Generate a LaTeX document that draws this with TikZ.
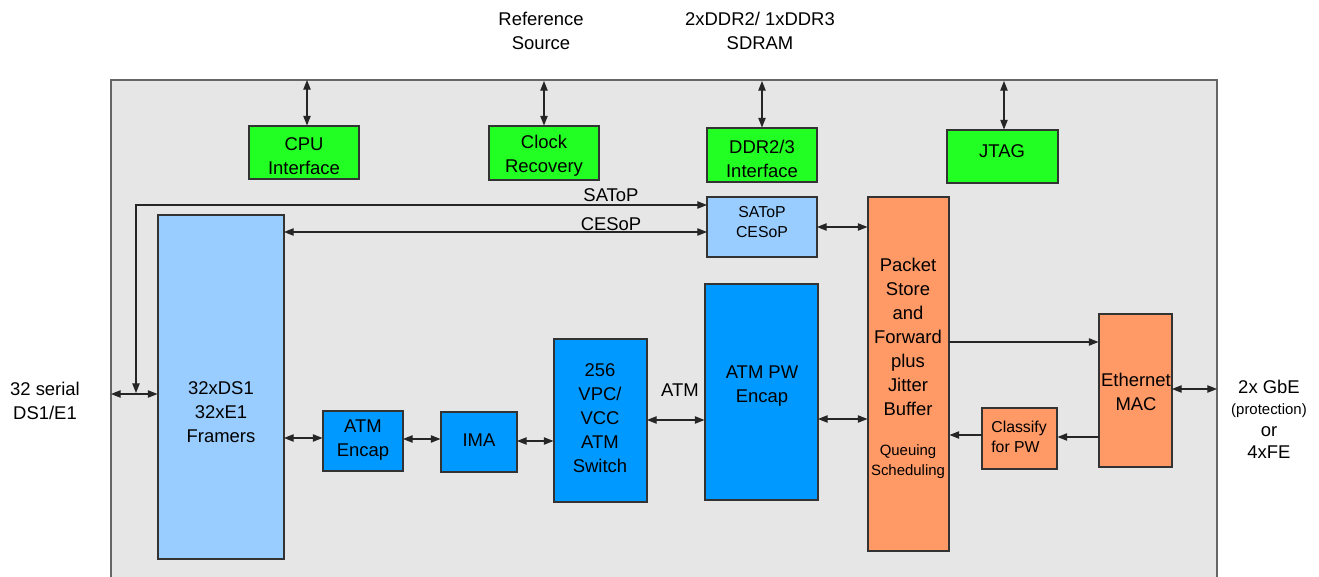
\documentclass[tikz,border=0pt]{standalone}
\usepackage{fontspec}
\setmainfont{Liberation Sans}
\usetikzlibrary{arrows.meta,fit}
\definecolor{cgreen}{HTML}{22FF22}
\definecolor{clblue}{HTML}{99CCFF}
\definecolor{cblue}{HTML}{0099FF}
\definecolor{corange}{HTML}{FF9966}
\definecolor{cbg}{HTML}{E6E6E6}
\definecolor{cframe}{HTML}{666666}
\definecolor{cedge}{HTML}{333333}
\tikzset{
  mainfont/.style={font=\fontsize{10.5}{13.6}\selectfont},
  smallfont/.style={font=\fontsize{8.5}{11.3}\selectfont},
  blockbox/.style={draw=cedge, line width=0.6pt, inner sep=0pt},
  greenbox/.style={blockbox, fill=cgreen},
  lbluebox/.style={blockbox, fill=clblue},
  bluebox/.style={blockbox, fill=cblue},
  orangebox/.style={blockbox, fill=corange},
  txt/.style={align=center, inner sep=0pt, mainfont},
  conn/.style={draw=black!85, line width=0.6pt, -{Triangle[length=5.5pt,width=4.2pt]}},
  biconn/.style={draw=black!85, line width=0.6pt, {Triangle[length=5.5pt,width=4.2pt]}-{Triangle[length=5.5pt,width=4.2pt]}},
}
\begin{document}
\begin{tikzpicture}[x=0.02cm,y=-0.02cm]
\useasboundingbox (0,0) rectangle (1319,577);
\clip (0,0) rectangle (1319,577);
% container
\path[fill=cbg, draw=cframe, line width=0.7pt] (111,80) rectangle (1217,620);

% green interface blocks
\node[greenbox, fit={(249,126) (359,179)}] (cpu) {};
\node[txt] (cput) at (304,156) {CPU\\Interface};
\node[greenbox, fit={(489,126) (599,180)}] (clk) {};
\node[txt] (clkt) at (544,156) {Clock\\Recovery};
\node[greenbox, fit={(707,128) (817,182)}] (ddr) {};
\node[txt] (ddrt) at (762,159) {DDR2/3\\Interface};
\node[greenbox, fit={(947,130) (1058,183)}] (jtag) {};
\node[txt] (jtagt) at (1002,151) {JTAG};

% light blue blocks
\node[lbluebox, fit={(158,215) (284,559)}] (fr) {};
\node[txt] (frt) at (221,412) {32xDS1\\32xE1\\Framers};
\node[lbluebox, fit={(707,197) (817,257)}] (sat) {};
\node[txt, font=\fontsize{9}{11.3}\selectfont] (satt) at (762,222) {SAToP\\CESoP};

% blue blocks
\node[bluebox, fit={(323,411) (403,471)}] (enc) {};
\node[txt] (enct) at (363,440) {ATM\\Encap};
\node[bluebox, fit={(441,412) (517,472)}] (ima) {};
\node[txt] (imat) at (479,440) {IMA};
\node[bluebox, fit={(554,339) (647,502)}] (sw) {};
\node[txt] (swt) at (600,418) {256\\VPC/\\VCC\\ATM\\Switch};
\node[bluebox, fit={(705,284) (818,500)}] (pw) {};
\node[txt] (pwt) at (762,386) {ATM PW\\Encap};

% orange blocks
\node[orangebox, fit={(868,197) (949,551)}] (pk) {};
\node[txt] (pkt) at (908,337) {Packet\\Store\\and\\Forward\\plus\\Jitter\\Buffer};
\node[txt, smallfont] (qst) at (908,462) {Queuing\\Scheduling};
\node[orangebox, fit={(982,408) (1057,469)}] (cls) {};
\node[txt, font=\fontsize{9}{11.3}\selectfont, align=left] (clst) at (1019,437) {Classify\\for PW};
\node[orangebox, fit={(1099,314) (1172,467)}] (mac) {};
\node[txt] (mact) at (1136,392) {Ethernet\\MAC};

% outside labels
\node[txt] (refsrc) at (541,31) {Reference\\Source};
\node[txt] (sdram) at (760,31) {2xDDR2/ 1xDDR3\\SDRAM};
\node[txt] (serial) at (45,401) {32 serial\\DS1/E1};
\node[txt, font=\fontsize{10.5}{12.3}\selectfont] (gbe) at (1269,419) {2x GbE\\{\fontsize{8.5}{10}\selectfont (protection)}\\or\\4xFE};

% link labels
\node[txt] (satl) at (611,195) {SAToP};
\node[txt] (cesl) at (611,224) {CESoP};
\node[txt] (atml) at (680,390) {ATM};

% coordinates on the container edge and bus
\coordinate (cpuT) at (307,80);
\coordinate (clkT) at (544,81);
\coordinate (ddrT) at (762,81);
\coordinate (jtagT) at (1004,81);
\coordinate (inL) at (111,394);
\coordinate (tap) at (136,393);
\coordinate (satin) at (707,205);
\coordinate (cesL) at (284,232);
\coordinate (cesR) at (707,232);
\coordinate (outR) at (1217,389);

% top connectors
\draw[biconn] (cpuT) -- (cpuT |- cpu.north);
\draw[biconn] (clkT) -- (clkT |- clk.north);
\draw[biconn] (ddrT) -- (ddrT |- ddr.north);
\draw[biconn] (jtagT) -- (jtagT |- jtag.north);

% left side
\draw[biconn] (inL) -- (inL -| fr.west);
\draw[biconn] (tap) |- (satin);
\draw[biconn] (cesL) -- (cesR);

% datapath
\coordinate (a1) at (284,438);
\draw[biconn] (a1) -- (a1 -| enc.west);
\coordinate (a2) at (403,439);
\draw[biconn] (a2) -- (a2 -| ima.west);
\coordinate (a3) at (517,441);
\draw[biconn] (a3) -- (a3 -| sw.west);
\coordinate (a4) at (647,420);
\draw[biconn] (a4) -- (a4 -| pw.west);
\coordinate (a5) at (818,419);
\draw[biconn] (a5) -- (a5 -| pk.west);
\coordinate (a6) at (817,227);
\draw[biconn] (a6) -- (a6 -| pk.west);

% right side
\coordinate (b1) at (949,342);
\draw[conn] (b1) -- (b1 -| mac.west);
\coordinate (b2) at (1099,437);
\draw[conn] (b2) -- (b2 -| cls.east);
\coordinate (b3) at (982,435);
\draw[conn] (b3) -- (b3 -| pk.east);
\coordinate (b4) at (1172,389);
\draw[biconn] (b4) -- (outR);
\end{tikzpicture}
\end{document}
